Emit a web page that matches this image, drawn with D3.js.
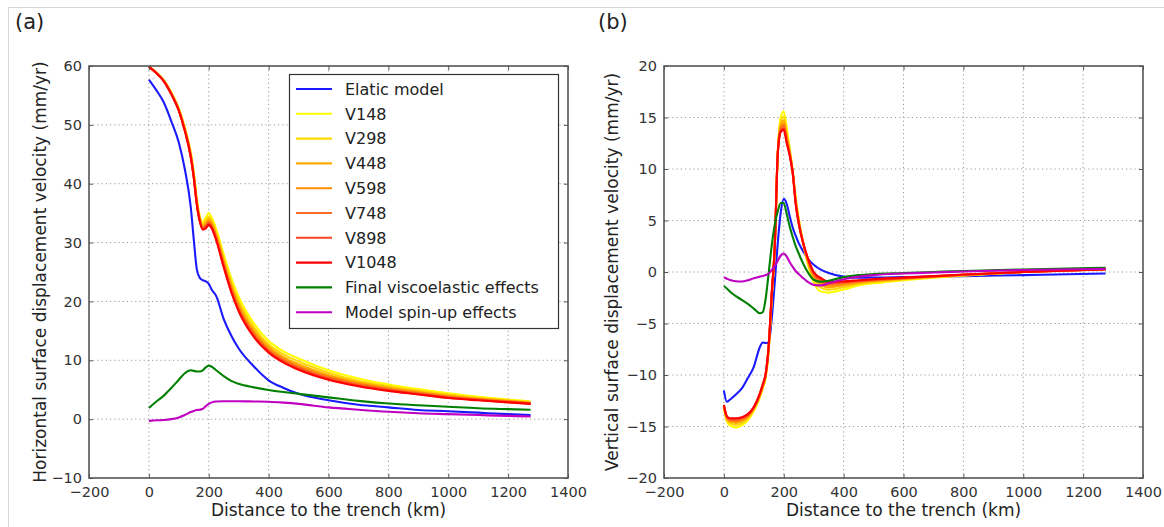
<!DOCTYPE html>
<html><head><meta charset="utf-8">
<script src="https://cdn.jsdelivr.net/npm/d3@7/dist/d3.min.js"></script>
<style>
html,body{margin:0;padding:0;background:#fff;}
svg{display:block;font-family:"DejaVu Sans",sans-serif;}
</style></head><body>
<svg id="chart" width="1164" height="527"></svg>
<script>
// ---------- DATA ----------
const seriesNames = ["Elatic model","V148","V298","V448","V598","V748","V898","V1048","Final viscoelastic effects","Model spin-up effects"];
const seriesColors = ["#1a1aff","#ffff00","#ffd700","#ffae00","#ff8c00","#ff6a28","#ff4422","#ff0000","#008000","#c000c0"];
const xTicks = [-200,0,200,400,600,800,1000,1200,1400];
const yTicksA = [-10,0,10,20,30,40,50,60];
const yTicksB = [-20,-15,-10,-5,0,5,10,15,20];

// Panel (a): horizontal velocity
const xA = [0,25,50,75,100,120,140,150,160,170,180,190,200,210,225,250,275,300,350,400,450,500,600,700,800,900,1000,1100,1200,1275];
const aElastic = [57.7,55.9,53.8,50.6,47.0,42.5,36.0,30.5,25.5,24.0,23.6,23.4,23.0,22.0,20.9,17.0,14.2,12.0,9.0,6.6,5.3,4.3,3.2,2.45,2.0,1.55,1.35,1.1,0.85,0.7];
const aV148  = [59.9,58.9,57.6,55.5,52.8,49.6,45.3,42.0,37.5,34.5,33.5,34.3,35.0,34.2,32.3,28.0,24.0,20.8,16.3,13.3,11.5,10.3,8.3,6.9,5.9,5.1,4.4,3.8,3.35,3.0];
const aV298  = [59.9,58.9,57.5,55.4,52.7,49.4,45.1,41.7,37.2,34.2,33.1,33.8,34.4,33.7,31.8,27.4,23.3,20.1,15.7,12.7,11.0,9.8,7.9,6.5,5.6,4.85,4.2,3.6,3.2,2.9];
const aV448  = [59.9,58.85,57.5,55.35,52.6,49.3,44.9,41.5,37.0,34.05,32.85,33.35,34.0,33.3,31.35,26.9,22.8,19.55,15.15,12.3,10.55,9.35,7.5,6.25,5.35,4.65,4.0,3.5,3.1,2.8];
const aV598  = [59.9,58.83,57.47,55.3,52.53,49.2,44.76,41.33,36.83,33.9,32.63,33.03,33.66,33.0,31.03,26.53,22.39,19.13,14.76,11.96,10.23,9.03,7.23,6.03,5.16,4.5,3.86,3.4,3.02,2.73];
const aV748  = [59.9,58.82,57.44,55.26,52.48,49.12,44.66,41.2,36.7,33.78,32.46,32.78,33.4,32.76,30.78,26.24,22.08,18.8,14.46,11.7,9.98,8.78,7.02,5.86,5.02,4.38,3.76,3.32,2.95,2.68];
const aV898  = [59.9,58.81,57.42,55.23,52.44,49.05,44.57,41.09,36.59,33.68,32.32,32.57,33.18,32.56,30.57,26.0,21.82,18.53,14.21,11.48,9.77,8.57,6.84,5.72,4.9,4.28,3.67,3.25,2.9,2.64];
const aV1048 = [59.9,58.8,57.4,55.2,52.4,49.0,44.5,41.0,36.5,33.6,32.2,32.4,33.0,32.4,30.4,25.8,21.6,18.3,14.0,11.3,9.6,8.4,6.7,5.6,4.8,4.2,3.6,3.2,2.85,2.6];
const aFinal = [1.9,3.0,4.0,5.3,6.7,7.8,8.3,8.2,8.1,8.1,8.3,8.8,9.1,8.9,8.3,7.3,6.5,6.0,5.4,4.95,4.6,4.3,3.7,3.1,2.65,2.35,2.1,1.85,1.7,1.6];
const aSpin  = [-0.3,-0.2,-0.15,0.0,0.3,0.7,1.2,1.4,1.55,1.6,1.75,2.2,2.6,2.85,3.0,3.05,3.05,3.05,3.0,2.95,2.8,2.6,2.0,1.6,1.25,1.0,0.85,0.7,0.55,0.45];

// Panel (b): vertical velocity
const xB = [0,10,20,40,60,80,100,120,130,140,150,160,170,180,190,200,210,220,230,240,250,265,280,300,325,350,400,450,500,600,700,800,1000,1275];
const bElastic = [-11.5,-12.6,-12.4,-11.9,-11.3,-10.3,-9.2,-7.3,-6.85,-6.9,-6.8,-4.5,-1.0,2.8,5.8,7.1,6.6,5.4,4.3,3.5,2.8,2.0,1.3,0.7,0.2,-0.1,-0.45,-0.55,-0.55,-0.5,-0.45,-0.4,-0.3,-0.15];
const bV148  = [-13.2,-14.5,-14.9,-15.1,-14.9,-14.4,-13.5,-12.2,-11.3,-10.2,-7.5,-2.5,2.5,11.5,15.0,15.6,14.0,12.0,9.8,7.2,5.2,2.8,0.8,-1.0,-1.9,-2.0,-1.7,-1.3,-1.1,-0.8,-0.55,-0.35,0.0,0.35];
const bV298  = [-13.1,-14.4,-14.7,-14.85,-14.7,-14.2,-13.4,-12.1,-11.2,-10.1,-7.35,-2.36,2.5,11.5,14.61,15.1,13.58,11.8,9.74,7.03,5.06,2.8,0.97,-0.72,-1.54,-1.71,-1.48,-1.16,-0.99,-0.73,-0.51,-0.32,0.0,0.32];
const bV448  = [-13.05,-14.25,-14.55,-14.65,-14.5,-14.1,-13.3,-12.0,-11.1,-10.0,-7.25,-2.25,2.5,11.5,14.3,14.7,13.25,11.65,9.7,6.9,4.95,2.8,1.1,-0.5,-1.25,-1.48,-1.3,-1.05,-0.9,-0.68,-0.48,-0.3,0.0,0.3];
const bV598  = [-13.0,-14.17,-14.43,-14.5,-14.36,-14.0,-13.23,-11.93,-11.03,-9.93,-7.17,-2.17,2.5,11.5,14.06,14.39,13.0,11.53,9.67,6.8,4.87,2.8,1.2,-0.33,-1.03,-1.3,-1.16,-0.97,-0.83,-0.63,-0.45,-0.28,0.0,0.28];
const bV748  = [-12.96,-14.1,-14.34,-14.38,-14.26,-13.92,-13.18,-11.88,-10.98,-9.88,-7.1,-2.1,2.5,11.5,13.88,14.16,12.8,11.44,9.64,6.72,4.8,2.8,1.28,-0.2,-0.86,-1.16,-1.06,-0.9,-0.78,-0.6,-0.43,-0.27,0.0,0.27];
const bV898  = [-12.93,-14.05,-14.26,-14.28,-14.17,-13.85,-13.14,-11.84,-10.94,-9.84,-7.05,-2.05,2.5,11.5,13.73,13.96,12.64,11.36,9.62,6.65,4.75,2.8,1.35,-0.09,-0.72,-1.04,-0.97,-0.85,-0.74,-0.57,-0.41,-0.26,0.0,0.26];
const bV1048 = [-12.9,-14.0,-14.2,-14.2,-14.1,-13.8,-13.1,-11.8,-10.9,-9.8,-7.0,-2.0,2.5,11.5,13.6,13.8,12.5,11.3,9.6,6.6,4.7,2.8,1.4,0.0,-0.6,-0.95,-0.9,-0.8,-0.7,-0.55,-0.4,-0.25,0.0,0.25];
const bFinal = [-1.36,-1.6,-1.9,-2.35,-2.7,-3.1,-3.55,-4.0,-3.9,-2.5,0.0,2.6,4.6,5.9,6.7,6.7,5.6,4.4,3.4,2.5,1.8,0.8,0.0,-0.75,-0.95,-0.85,-0.5,-0.3,-0.2,-0.1,0.0,0.1,0.25,0.4];
const bSpin  = [-0.52,-0.65,-0.78,-0.9,-0.92,-0.8,-0.6,-0.45,-0.38,-0.3,-0.15,0.2,0.6,1.1,1.6,1.8,1.5,0.95,0.5,0.1,-0.2,-0.6,-0.95,-1.25,-1.3,-1.1,-0.7,-0.45,-0.3,-0.15,-0.05,0.05,0.2,0.3];

const seriesA = [aElastic,aV148,aV298,aV448,aV598,aV748,aV898,aV1048,aFinal,aSpin];
const seriesB = [bElastic,bV148,bV298,bV448,bV598,bV748,bV898,bV1048,bFinal,bSpin];

// ---------- DRAW ----------
const svg = d3.select("#chart");
const minus = v => String(v).replace("-", "\u2212");

// faint figure border
svg.append("line").attr("x1",8).attr("x2",1164).attr("y1",7.5).attr("y2",7.5).attr("stroke","#d8d8d8");
svg.append("line").attr("x1",8.5).attr("x2",8.5).attr("y1",7).attr("y2",527).attr("stroke","#d8d8d8");

function panel(cfg){
  const {left,right,top,bottom,yDomain,yTicks,xs,series,ylabel,tag,tagX,ylabelX,id} = cfg;
  const x = d3.scaleLinear().domain([-200,1400]).range([left,right]);
  const y = d3.scaleLinear().domain(yDomain).range([bottom,top]);
  const g = svg.append("g");

  // grid
  g.append("g").selectAll("line").data(xTicks.slice(1,-1)).join("line")
    .attr("x1",d=>x(d)).attr("x2",d=>x(d)).attr("y1",top).attr("y2",bottom)
    .attr("stroke","#9a9a9a").attr("stroke-width",1).attr("stroke-dasharray","1.2,3");
  g.append("g").selectAll("line").data(yTicks.slice(1,-1)).join("line")
    .attr("y1",d=>y(d)).attr("y2",d=>y(d)).attr("x1",left).attr("x2",right)
    .attr("stroke","#9a9a9a").attr("stroke-width",1).attr("stroke-dasharray","1.2,3");

  // clip
  svg.append("clipPath").attr("id",id).append("rect")
    .attr("x",left).attr("y",top).attr("width",right-left).attr("height",bottom-top);

  const line = d3.line().x((d,i)=>x(xs[i])).y(d=>y(d)).curve(d3.curveMonotoneX);
  const lg = g.append("g").attr("clip-path",`url(#${id})`);
  series.forEach((s,k)=>{
    lg.append("path").attr("d",line(s)).attr("fill","none")
      .attr("stroke",seriesColors[k]).attr("stroke-width",2.1)
      .attr("stroke-linejoin","round");
  });

  // axes (ticks inward)
  const ax = g.append("g");
  const fmt = d=>minus(d);
  const b = ax.append("g").attr("transform",`translate(0,${bottom})`)
    .call(d3.axisBottom(x).tickValues(xTicks).tickSize(-4).tickPadding(9).tickFormat(fmt));
  const t = ax.append("g").attr("transform",`translate(0,${top})`)
    .call(d3.axisTop(x).tickValues(xTicks).tickSize(-4).tickFormat(""));
  const l = ax.append("g").attr("transform",`translate(${left},0)`)
    .call(d3.axisLeft(y).tickValues(yTicks).tickSize(-4).tickPadding(7).tickFormat(fmt));
  const r = ax.append("g").attr("transform",`translate(${right},0)`)
    .call(d3.axisRight(y).tickValues(yTicks).tickSize(-4).tickFormat(""));
  [b,t,l,r].forEach(a=>{
    a.attr("font-family","DejaVu Sans").attr("font-size",14.5);
    a.select(".domain").remove();
    a.selectAll("line").attr("stroke","#555");
    a.selectAll("text").attr("fill","#333");
  });
  g.append("rect").attr("x",left).attr("y",top).attr("width",right-left).attr("height",bottom-top)
    .attr("fill","none").attr("stroke","#555").attr("stroke-width",1.6);

  // labels
  svg.append("text").attr("x",(left+right)/2).attr("y",516).attr("text-anchor","middle")
    .attr("font-size",17).attr("fill","#222").text("Distance to the trench (km)");
  svg.append("text").attr("transform",`translate(${ylabelX},${(top+bottom)/2}) rotate(-90)`)
    .attr("text-anchor","middle").attr("dy","0.35em").attr("font-size",17).attr("fill","#222").text(ylabel);
  svg.append("text").attr("x",tagX).attr("y",29).attr("font-size",21).attr("fill","#222").text(tag);
  return {x,y};
}

panel({left:89,right:568,top:66,bottom:478,yDomain:[-10,60],yTicks:yTicksA,xs:xA,series:seriesA,
  ylabel:"Horizontal surface displacement velocity (mm/yr)",tag:"(a)",tagX:15,ylabelX:40,id:"clipA"});
panel({left:664,right:1143,top:66,bottom:478,yDomain:[-20,20],yTicks:yTicksB,xs:xB,series:seriesB,
  ylabel:"Vertical surface displacement velocity (mm/yr)",tag:"(b)",tagX:598,ylabelX:612,id:"clipB"});

// legend
const leg = svg.append("g");
leg.append("rect").attr("x",289.5).attr("y",74.5).attr("width",269).attr("height",254)
  .attr("fill","#fff").attr("stroke","#333").attr("stroke-width",1.2);
seriesNames.forEach((n,i)=>{
  const yy = 89 + i*24.8;
  leg.append("line").attr("x1",296).attr("x2",332).attr("y1",yy).attr("y2",yy)
    .attr("stroke",seriesColors[i]).attr("stroke-width",2.1);
  leg.append("text").attr("x",345).attr("y",yy).attr("dy","0.36em").attr("font-size",16)
    .attr("fill","#222").text(n);
});
</script>
</body></html>
